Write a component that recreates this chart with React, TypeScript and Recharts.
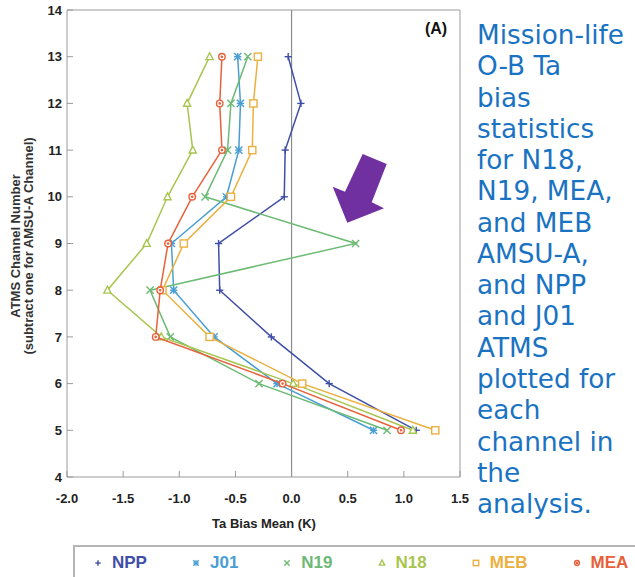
import React from 'react';
import { ScatterChart, Scatter, XAxis, YAxis, ReferenceLine } from 'recharts';

const channels = [5, 6, 7, 8, 9, 10, 11, 12, 13];
const nppBias = [1.11, 0.335, -0.18, -0.64, -0.65, -0.065, -0.057, 0.083, -0.03];
const j01Bias = [0.73, -0.13, -0.69, -1.05, -1.07, -0.58, -0.47, -0.455, -0.48];
const n19Bias = [0.85, -0.29, -1.08, -1.26, 0.57, -0.77, -0.57, -0.54, -0.39];
const n18Bias = [1.08, 0.015, -1.16, -1.64, -1.29, -1.105, -0.88, -0.93, -0.73];
const mebBias = [1.28, 0.095, -0.73, -1.15, -0.96, -0.54, -0.35, -0.34, -0.3];
const meaBias = [0.975, -0.08, -1.21, -1.17, -1.1, -0.885, -0.62, -0.64, -0.62];

const seriesNames = ['NPP', 'J01', 'N19', 'N18', 'MEB', 'MEA'];
const xTicks = [-2, -1.5, -1, -0.5, 0, 0.5, 1, 1.5];
const yTicks = [4, 5, 6, 7, 8, 9, 10, 11, 12, 13, 14];

const xLabel = 'Ta Bias Mean (K)';
const yLabel1 = 'ATMS Channel Number';
const yLabel2 = '(subtract one for AMSU-A Channel)';
const panelLabel = '(A)';
const sideText = [
  'Mission-life',
  'O-B Ta',
  'bias',
  'statistics',
  'for N18,',
  'N19, MEA,',
  'and MEB',
  'AMSU-A,',
  'and NPP',
  'and J01',
  'ATMS',
  'plotted for',
  'each',
  'channel in',
  'the',
  'analysis.',
];

const seriesValues = [nppBias, j01Bias, n19Bias, n18Bias, mebBias, meaBias];
const seriesColors = ['#3F4EA6', '#4A9ED3', '#6CBA74', '#A8C550', '#EBB03E', '#E7603A'];
const seriesMarkers = ['plus', 'star', 'cross', 'triangle', 'square', 'circle'];

const series = seriesNames.map((name, i) => ({
  name,
  color: seriesColors[i],
  marker: seriesMarkers[i],
  data: channels.map((ch, j) => ({ x: seriesValues[i][j], y: ch })),
}));

const FONT = '"Liberation Sans", Arial, sans-serif';
const AXIS_GRAY = '#9a9a9a';

function Marker({ kind, cx, cy, color, s = 1 }: any) {
  if (cx == null || cy == null) return null;
  const sw = 1.4;
  const common = { stroke: color, strokeWidth: sw, fill: 'none' };
  const h = 3.6 * s;
  switch (kind) {
    case 'plus':
      return (
        <g {...common}>
          <line x1={cx - h} x2={cx + h} y1={cy} y2={cy} />
          <line x1={cx} x2={cx} y1={cy - h} y2={cy + h} />
        </g>
      );
    case 'cross':
      return (
        <g {...common}>
          <line x1={cx - h} x2={cx + h} y1={cy - h} y2={cy + h} />
          <line x1={cx - h} x2={cx + h} y1={cy + h} y2={cy - h} />
        </g>
      );
    case 'star':
      return (
        <g {...common}>
          <line x1={cx - h} x2={cx + h} y1={cy - h} y2={cy + h} />
          <line x1={cx - h} x2={cx + h} y1={cy + h} y2={cy - h} />
          <line x1={cx} x2={cx} y1={cy - h} y2={cy + h} />
          <line x1={cx - h} x2={cx + h} y1={cy} y2={cy} />
        </g>
      );
    case 'triangle':
      return (
        <polygon
          {...common}
          fill="#fff"
          points={`${cx},${cy - h * 1.1} ${cx - h},${cy + h * 0.8} ${cx + h},${cy + h * 0.8}`}
        />
      );
    case 'square':
      return <rect {...common} fill="#fff" x={cx - h} y={cy - h} width={2 * h} height={2 * h} />;
    default:
      return (
        <g {...common}>
          <circle cx={cx} cy={cy} r={h * 0.9} fill="#fff" />
          <circle cx={cx} cy={cy} r={0.6} fill={color} />
        </g>
      );
  }
}

function LegendBox() {
  return (
    <div
      style={{
        position: 'absolute',
        left: 73,
        top: 545,
        width: 600,
        height: 40,
        borderTop: '2px solid #b5b5b5',
        borderLeft: '2px solid #b5b5b5',
        boxSizing: 'border-box',
        display: 'flex',
        alignItems: 'center',
        paddingLeft: 18,
        paddingBottom: 6,
        fontFamily: FONT,
        fontWeight: 'bold',
        fontSize: 17,
        whiteSpace: 'nowrap',
      }}
    >
      {series.map((s) => (
        <div key={s.name} style={{ display: 'flex', alignItems: 'center', marginRight: 44, flexShrink: 0 }}>
          <svg width={10} height={10} style={{ marginRight: 9 }}>
            <Marker kind={s.marker} cx={5} cy={5} color={s.color} s={0.75} />
          </svg>
          <span style={{ color: s.color, lineHeight: '20px' }}>{s.name}</span>
        </div>
      ))}
    </div>
  );
}

export default function App() {
  const fmt = (v: number) => v.toFixed(1);
  const tickStyle = { fontSize: 13, fontWeight: 'bold', fill: '#222', fontFamily: FONT };
  return (
    <div style={{ position: 'absolute', left: 0, top: 0, width: 635, height: 577, background: '#fff', overflow: 'hidden' }}>
      <ScatterChart width={635} height={577} margin={{ top: 9, right: 174, bottom: 70, left: 27 }}>
        <XAxis
          type="number"
          dataKey="x"
          domain={[-2, 1.5]}
          ticks={xTicks}
          tickFormatter={fmt}
          height={30}
          tick={tickStyle}
          tickSize={-6}
          tickMargin={23}
          stroke={AXIS_GRAY}
          interval={0}
        />
        <XAxis
          xAxisId="top"
          orientation="top"
          type="number"
          dataKey="x"
          domain={[-2, 1.5]}
          ticks={xTicks}
          tickFormatter={() => ''}
          height={1}
          tickSize={-6}
          stroke={AXIS_GRAY}
          interval={0}
        />
        <YAxis
          type="number"
          dataKey="y"
          domain={[4, 14]}
          ticks={yTicks}
          width={40}
          tick={tickStyle}
          tickSize={-6}
          tickMargin={11}
          stroke={AXIS_GRAY}
          interval={0}
        />
        <YAxis
          yAxisId="right"
          orientation="right"
          type="number"
          dataKey="y"
          domain={[4, 14]}
          ticks={yTicks}
          tickFormatter={() => ''}
          width={1}
          tickSize={-6}
          stroke={AXIS_GRAY}
          interval={0}
        />
        <ReferenceLine x={0} stroke="#8c8c8c" strokeWidth={1.2} ifOverflow="visible" />
        {series.map((s) => (
          <Scatter
            key={s.name}
            name={s.name}
            data={s.data}
            line={{ stroke: s.color, strokeWidth: 1.5 }}
            lineType="joint"
            isAnimationActive={false}
            shape={(p: any) => <Marker kind={s.marker} cx={p.cx} cy={p.cy} color={s.color} />}
          />
        ))}
      </ScatterChart>

      <svg
        width={635}
        height={577}
        style={{ position: 'absolute', left: 0, top: 0, pointerEvents: 'none' }}
      >
        <text
          x={15}
          y={246}
          transform="rotate(-90 15 246)"
          textAnchor="middle"
          dominantBaseline="central"
          fontFamily={FONT}
          fontWeight="bold"
          fontSize={13}
          fill="#333"
        >
          {yLabel1}
        </text>
        <text
          x={28}
          y={246}
          transform="rotate(-90 28 246)"
          textAnchor="middle"
          dominantBaseline="central"
          fontFamily={FONT}
          fontWeight="bold"
          fontSize={13}
          fill="#333"
        >
          {yLabel2}
        </text>
        <text x={264} y={528} textAnchor="middle" fontFamily={FONT} fontWeight="bold" fontSize={13} fill="#222">
          {xLabel}
        </text>
        <text x={436} y={34} textAnchor="middle" fontFamily={FONT} fontWeight="bold" fontSize={16} fill="#111">
          {panelLabel}
        </text>
        <polygon
          points="362.7,154 345,191.7 332.7,186.7 347.3,222.7 384,208.3 371.7,202.3 386.7,164"
          fill="#7030A0"
        />
        {sideText.map((line, i) => (
          <text
            key={i}
            x={477}
            y={44 + i * 31.27}
            fontFamily='"DejaVu Sans", Verdana, sans-serif'
            fontSize={26.3}
            fill="#1A73C2"
          >
            {line}
          </text>
        ))}
      </svg>
      <LegendBox />
    </div>
  );
}
